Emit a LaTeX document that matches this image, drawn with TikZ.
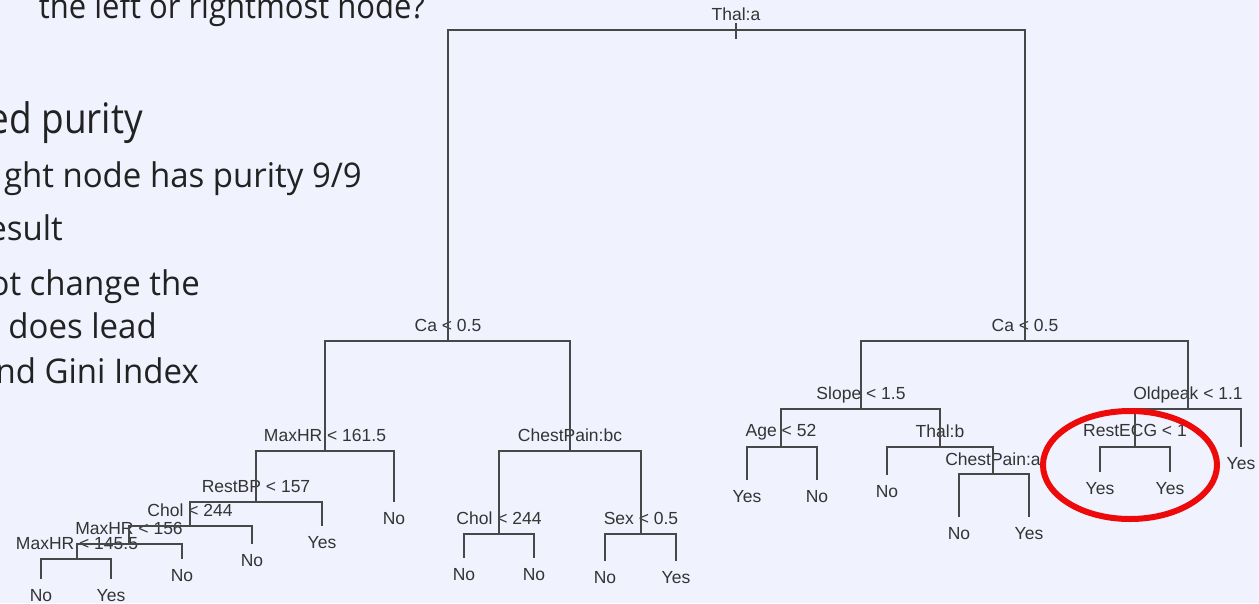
\documentclass[tikz,border=0pt]{standalone}
\usepackage{fontspec}
\setmainfont{Open Sans}
\newfontfamily\treefont{Liberation Sans}
\definecolor{bg}{RGB}{240,242,254}
\definecolor{treeline}{RGB}{72,72,72}
\definecolor{treetext}{RGB}{52,52,52}
\definecolor{slidetext}{RGB}{34,34,34}
\definecolor{circ}{RGB}{236,10,10}
\begin{document}
\begin{tikzpicture}[x=1pt,y=-1pt,
  edge/.style={draw=treeline,line width=1.5pt},
  splitlabel/.style={font=\treefont\fontsize{17.5}{17.5}\selectfont,text=treetext,anchor=base,inner sep=0pt},
  leaf/.style={font=\treefont\fontsize{17.5}{17.5}\selectfont,text=treetext,anchor=north,inner xsep=0pt,inner ysep=10pt,outer sep=0pt},
  bullet/.style={font=\fontsize{34}{34}\selectfont,text=slidetext,anchor=base east,inner sep=0pt,xscale=0.97},
  bigbullet/.style={font=\fontsize{42}{42}\selectfont,text=slidetext,anchor=base east,inner sep=0pt,xscale=0.88},
  ring/.style={draw=circ,line width=6pt}
]
\fill[bg] (0,0) rectangle (1259,603);
\useasboundingbox (0,0) rectangle (1259,603);
\clip (0,0) rectangle (1259,603);

% slide text (cut off at the left by the tree picture)
\node[bullet,xscale=0.94] (s1) at (425,18) {the left or rightmost node?};
\node[bigbullet] (s2) at (143,133) {ed purity};
\node[bullet] (s3) at (362,187) {ght node has purity 9/9};
\node[bullet] (s4) at (63,240) {esult};
\node[bullet] (s5) at (200,295) {ot change the};
\node[bullet] (s6) at (157,338) {does lead};
\node[bullet] (s7) at (199,383) {nd Gini Index};

% split points
\coordinate (r) at (736,30);
\coordinate (rtop) at (736,23);
\coordinate (rbot) at (736,39);
\coordinate (L) at (448,341);
\coordinate (R) at (1025,341);
\coordinate (A) at (325,451);
\coordinate (B) at (570,451);
\coordinate (A1) at (256,502);
\coordinate (A11) at (190,526);
\coordinate (A111) at (129,544);
\coordinate (A1111) at (77,559);
\coordinate (B1) at (499,534);
\coordinate (B2) at (641,534);
\coordinate (C) at (861,409);
\coordinate (D) at (1188,409);
\coordinate (C1) at (781,447);
\coordinate (C2) at (940,447);
\coordinate (C22) at (993,474);
\coordinate (D1) at (1135,447);

% split labels
\node[splitlabel] (tr) at (736,20) {Thal:a};
\node[splitlabel] (tL) at (448,331) {Ca < 0.5};
\node[splitlabel] (tR) at (1025,331) {Ca < 0.5};
\node[splitlabel] (tA) at (325,441) {MaxHR < 161.5};
\node[splitlabel] (tB) at (570,441) {ChestPain:bc};
\node[splitlabel] (tA1) at (256,492) {RestBP < 157};
\node[splitlabel] (tA11) at (190,516) {Chol < 244};
\node[splitlabel] (tA111) at (129,534) {MaxHR < 156};
\node[splitlabel] (tA1111) at (77,549) {MaxHR < 145.5};
\node[splitlabel] (tB1) at (499,524) {Chol < 244};
\node[splitlabel] (tB2) at (641,524) {Sex < 0.5};
\node[splitlabel] (tC) at (861,399) {Slope < 1.5};
\node[splitlabel] (tD) at (1188,399) {Oldpeak < 1.1};
\node[splitlabel] (tC1) at (781,436) {Age < 52};
\node[splitlabel] (tC2) at (940,437) {Thal:b};
\node[splitlabel] (tC22) at (993,465) {ChestPain:a};
\node[splitlabel] (tD1) at (1135,436) {RestECG < 1};

% leaves
\node[leaf] (lA) at (394,502) {No};
\node[leaf] (lA1) at (322,526) {Yes};
\node[leaf] (lA11) at (252,544) {No};
\node[leaf] (lA111) at (182,559) {No};
\node[leaf] (lA1111a) at (41,579) {No};
\node[leaf] (lA1111b) at (111,579) {Yes};
\node[leaf] (lB1a) at (464,558) {No};
\node[leaf] (lB1b) at (534,558) {No};
\node[leaf] (lB2a) at (605,561) {No};
\node[leaf] (lB2b) at (676,561) {Yes};
\node[leaf] (lC1a) at (747,480) {Yes};
\node[leaf] (lC1b) at (817,480) {No};
\node[leaf] (lC2) at (887,475) {No};
\node[leaf] (lC22a) at (959,517) {No};
\node[leaf] (lC22b) at (1029,517) {Yes};
\node[leaf] (lD) at (1241,447) {Yes};
\node[leaf] (lD1a) at (1100,472) {Yes};
\node[leaf] (lD1b) at (1170,472) {Yes};

% edges
\draw[edge] (rtop) -- (rbot);
\draw[edge] (r) -| (L);
\draw[edge] (r) -| (R);
\draw[edge] (L) -| (A);
\draw[edge] (L) -| (B);
\draw[edge] (A) -| (A1);
\draw[edge] (A) -| (lA);
\draw[edge] (A1) -| (A11);
\draw[edge] (A1) -| (lA1);
\draw[edge] (A11) -| (A111);
\draw[edge] (A11) -| (lA11);
\draw[edge] (A111) -| (A1111);
\draw[edge] (A111) -| (lA111);
\draw[edge] (A1111) -| (lA1111a);
\draw[edge] (A1111) -| (lA1111b);
\draw[edge] (B) -| (B1);
\draw[edge] (B) -| (B2);
\draw[edge] (B1) -| (lB1a);
\draw[edge] (B1) -| (lB1b);
\draw[edge] (B2) -| (lB2a);
\draw[edge] (B2) -| (lB2b);
\draw[edge] (R) -| (C);
\draw[edge] (R) -| (D);
\draw[edge] (C) -| (C1);
\draw[edge] (C) -| (C2);
\draw[edge] (C1) -| (lC1a);
\draw[edge] (C1) -| (lC1b);
\draw[edge] (C2) -| (lC2);
\draw[edge] (C2) -| (C22);
\draw[edge] (C22) -| (lC22a);
\draw[edge] (C22) -| (lC22b);
\draw[edge] (D) -| (D1);
\draw[edge] (D) -| (lD);
\draw[edge] (D1) -| (lD1a);
\draw[edge] (D1) -| (lD1b);

% highlight
\coordinate (ringc) at (1130,465);
\draw[ring] (ringc) ellipse [x radius=87, y radius=54];
\end{tikzpicture}
\end{document}
